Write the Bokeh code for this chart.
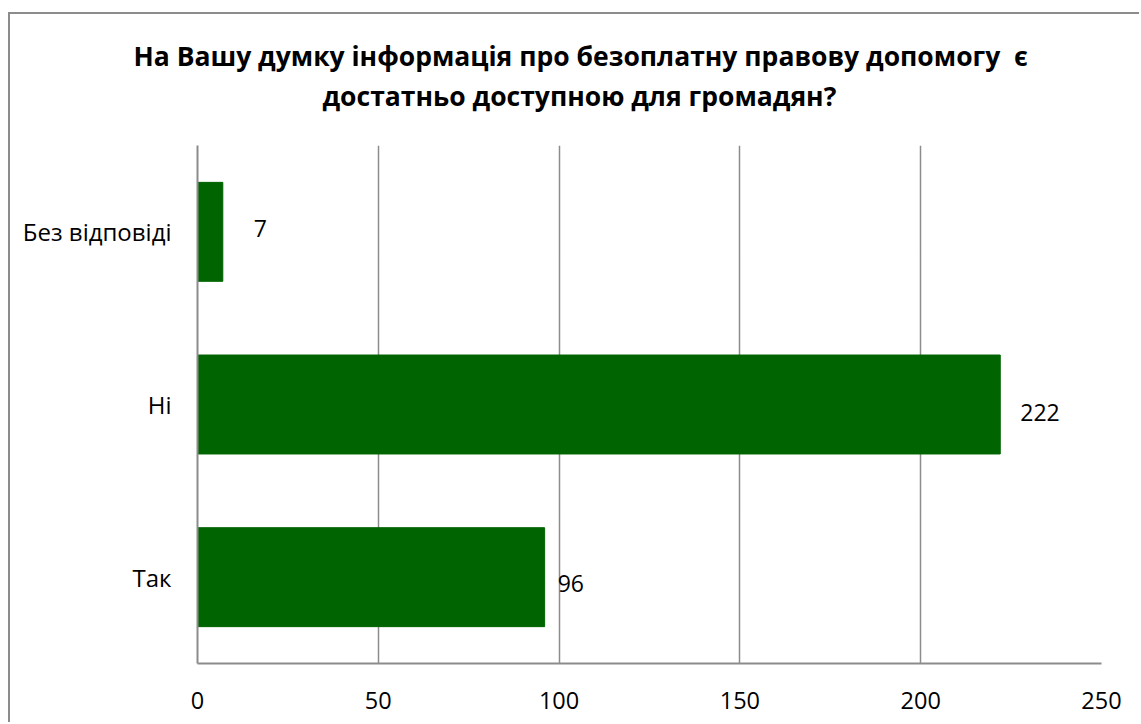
from bokeh.plotting import figure
from bokeh.models import ColumnDataSource, FactorRange, Range1d, Title, FixedTicker
from bokeh.core.properties import value
from bokeh.embed import file_html
from bokeh.resources import INLINE

categories = ["Так", "Ні", "Без відповіді"]
counts = [96, 222, 7]
x_ticks = [0, 50, 100, 150, 200, 250]
title_lines = ["На Вашу думку інформація про безоплатну правову допомогу  є",
               "достатньо доступною для громадян?"]

# label placement styles (pixels)
label_dx = [13, 20, 31]
label_dy = [6, 8, -3]
title_offsets = [-64, 125]
title_standoffs = [2, 2]

FONT = "Open Sans"
GREEN = "#006400"
GRAY = "#8c8c8c"

src = ColumnDataSource(dict(cat=categories, val=counts,
                            lab=[str(v) for v in counts],
                            dx=label_dx, dy=label_dy))

p = figure(width=1131, height=710, y_range=FactorRange(*categories),
           x_range=Range1d(0, 250), output_backend="svg", toolbar_location=None,
           min_border_left=187, min_border_right=40, min_border_top=131,
           min_border_bottom=61)
p.styles = {"margin-left": "8px", "margin-top": "12px",
            "border-left": "2px solid #8c8c8c", "border-top": "2px solid #8c8c8c"}
p.outline_line_color = None
p.background_fill_color = "white"
p.border_fill_color = "white"

p.hbar(y="cat", right="val", left=0, height=0.573, source=src,
       fill_color=GREEN, line_color=GREEN)
p.text(x="val", y="cat", text="lab", source=src, x_offset="dx", y_offset="dy",
       text_font=value(FONT), text_font_size="23px", text_baseline="middle",
       text_align="left", text_color="black")

p.xaxis.ticker = FixedTicker(ticks=x_ticks)
p.xaxis.axis_line_color = GRAY
p.xaxis.axis_line_width = 2
p.xaxis.major_tick_line_color = None
p.xaxis.minor_tick_line_color = None
p.xaxis.major_label_standoff = 22
p.xaxis.major_label_text_font = FONT
p.xaxis.major_label_text_font_size = "23.5px"
p.xaxis.major_label_text_color = "black"

p.yaxis.axis_line_color = GRAY
p.yaxis.axis_line_width = 2
p.yaxis.major_tick_line_color = None
p.yaxis.minor_tick_line_color = None
p.yaxis.major_label_standoff = 20
p.yaxis.major_label_text_font = FONT
p.yaxis.major_label_text_font_size = "24px"
p.yaxis.major_label_text_color = "black"

p.xgrid.grid_line_color = GRAY
p.xgrid.grid_line_width = 1.5
p.ygrid.grid_line_color = None

# spacer between the title block and the plot area
p.add_layout(Title(text=" ", text_font_size="1px", standoff=28), "above")
for i in reversed(range(len(title_lines))):
    p.add_layout(Title(text=title_lines[i].replace("  ", "\u00a0 "), align="left",
                       offset=title_offsets[i], standoff=title_standoffs[i],
                       text_font=FONT, text_font_size="26.5px",
                       text_font_style="bold", text_color="black"), "above")

open("out.html", "w").write(file_html(p, INLINE))
